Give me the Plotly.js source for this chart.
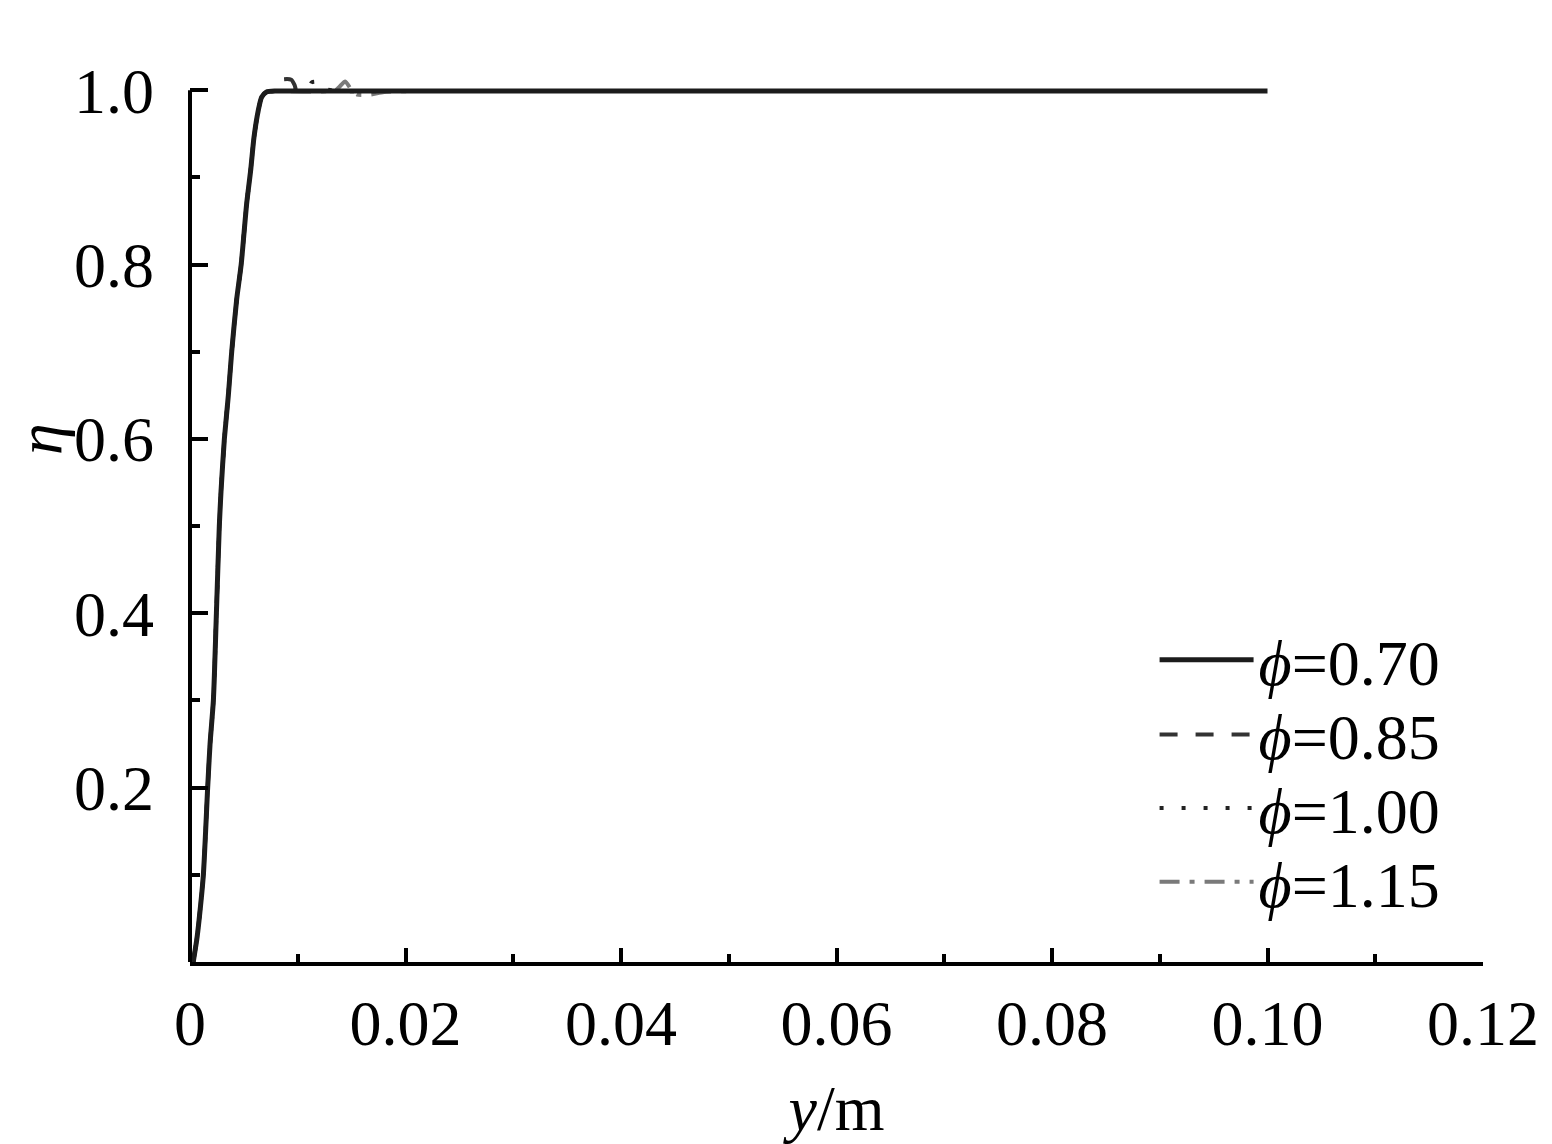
<!DOCTYPE html>
<html>
<head>
<meta charset="utf-8">
<script src="https://cdn.plot.ly/plotly-3.0.1.min.js"></script>
<style>
  html, body { margin: 0; padding: 0; background: #fff; }
  #chart { width: 1552px; height: 1144px; }
</style>
</head>
<body>
<div id="chart"></div>
<script>
// rising part, shared by all four curves
var riseY = [0.0003, 0.00062, 0.00084, 0.00124, 0.00164, 0.00186, 0.00217, 0.00245, 0.00272, 0.00288, 0.00319, 0.00356, 0.00387, 0.00433, 0.00475, 0.00526, 0.00563, 0.00594, 0.00634, 0.00665, 0.0071];
var riseEta = [0, 0.025, 0.048, 0.1, 0.2, 0.25, 0.3, 0.4, 0.5, 0.54, 0.6, 0.65, 0.7, 0.76, 0.8, 0.87, 0.908, 0.946, 0.977, 0.992, 0.998];

// plateau parts, one per equivalence ratio
var tail070Y = [0.008, 0.012, 0.02, 0.03, 0.05, 0.07, 0.1];
var tail070Eta = [0.999, 0.999, 0.999, 0.999, 0.999, 0.999, 0.999];
var tail085Y = [0.0078, 0.0083, 0.0085, 0.0094, 0.0097, 0.0099, 0.011, 0.02, 0.03, 0.05, 0.07, 0.1];
var tail085Eta = [0.999, 1.004, 1.012, 1.012, 1.006, 0.999, 0.999, 0.999, 0.999, 0.999, 0.999, 0.999];
var tail100Y = [0.008, 0.011, 0.0113, 0.0123, 0.0127, 0.014, 0.02, 0.03, 0.05, 0.07, 0.1];
var tail100Eta = [0.999, 1.001, 1.009, 1.009, 1.001, 0.999, 0.999, 0.999, 0.999, 0.999, 0.999];
var tail115Y = [0.008, 0.0135, 0.0144, 0.015, 0.0155, 0.0168, 0.018, 0.022, 0.03, 0.05, 0.07, 0.1];
var tail115Eta = [0.999, 1.0, 1.01, 1.0, 0.995, 0.995, 0.998, 0.999, 0.999, 0.999, 0.999, 0.999];

var seriesNames = ["<i>ϕ</i>=0.70", "<i>ϕ</i>=0.85", "<i>ϕ</i>=1.00", "<i>ϕ</i>=1.15"];

var xTickVals = [0, 0.02, 0.04, 0.06, 0.08, 0.10, 0.12];
var xTickText = ["0", "0.02", "0.04", "0.06", "0.08", "0.10", "0.12"];
var xMinorVals = [0.01, 0.03, 0.05, 0.07, 0.09, 0.11];
var yTickVals = [0.2, 0.4, 0.6, 0.8, 1.0];
var yTickText = ["0.2", "0.4", "0.6", "0.8", "1.0"];
var yMinorVals = [0.1, 0.3, 0.5, 0.7, 0.9];

var FONT = "Liberation Serif, Times New Roman, serif";

function curve(tx, ty, name, color, width, dash, leg) {
  return {
    x: riseY.concat(tx),
    y: riseEta.concat(ty),
    type: "scatter",
    mode: "lines",
    name: name,
    legend: leg,
    line: { color: color, width: width, dash: dash, shape: "spline", smoothing: 0.6 },
  };
}

// grey ones first so the solid curve sits on top
var traces = [
  curve(tail115Y, tail115Eta, seriesNames[3], "#7a7a7a", 4, "20px,10px,5px,10px", "legend4"),
  curve(tail100Y, tail100Eta, seriesNames[2], "#222222", 4, "4px,18px", "legend3"),
  curve(tail085Y, tail085Eta, seriesNames[1], "#333333", 4, "18px,18px", "legend2"),
  curve(tail070Y, tail070Eta, seriesNames[0], "#1c1c1c", 5, "solid", "legend"),
];

function legendAt(yc) {
  return {
    x: 0.746,
    y: yc,
    xanchor: "left",
    yanchor: "middle",
    bgcolor: "rgba(0,0,0,0)",
    font: { family: FONT, size: 64, color: "#000" },
    itemwidth: 94,
  };
}

var layout = {
  width: 1552,
  height: 1144,
  margin: { l: 190, r: 69, t: 64, b: 182 },
  paper_bgcolor: "#fff",
  plot_bgcolor: "#fff",
  font: { family: FONT, size: 64, color: "#000" },
  showlegend: true,
  legend: legendAt(0.336),
  legend2: legendAt(0.253),
  legend3: legendAt(0.171),
  legend4: legendAt(0.089),
  xaxis: {
    range: [0, 0.12],
    tickmode: "array",
    tickvals: xTickVals,
    ticktext: xTickText,
    ticks: "inside",
    ticklen: 14,
    tickwidth: 4,
    tickcolor: "#000",
    minor: { tickmode: "array", tickvals: xMinorVals, ticks: "inside", ticklen: 8, tickwidth: 4, tickcolor: "#000" },
    showline: true,
    linewidth: 4,
    linecolor: "#000",
    showgrid: false,
    zeroline: false,
    ticklabelstandoff: 2,
    tickfont: { family: FONT, size: 64, color: "#000" },
    title: { text: "<i>y</i>/m", standoff: 28, font: { family: FONT, size: 64, color: "#000" } },
  },
  yaxis: {
    range: [0, 1.03],
    tickmode: "array",
    tickvals: yTickVals,
    ticktext: yTickText,
    ticks: "inside",
    ticklen: 18,
    tickwidth: 4,
    tickcolor: "#000",
    minor: { tickmode: "array", tickvals: yMinorVals, ticks: "inside", ticklen: 10, tickwidth: 4, tickcolor: "#000" },
    showline: false,
    showgrid: false,
    zeroline: false,
    ticklabelstandoff: 35,
    tickfont: { family: FONT, size: 64, color: "#000" },
  },
  annotations: [
    { text: "<i>η</i>", xref: "paper", yref: "y", x: -0.116, y: 0.6, xanchor: "center", yanchor: "middle",
      textangle: -90, showarrow: false, font: { family: FONT, size: 64, color: "#000" } },
  ],
  shapes: [
    // y axis line, stops at eta = 1.0 like the original
    { type: "line", xref: "paper", yref: "y", x0: 0, x1: 0, y0: 0, y1: 1.0, line: { color: "#000", width: 4 } },
  ],
};

Plotly.newPlot("chart", traces, layout, { displayModeBar: false, staticPlot: true });
</script>
</body>
</html>
